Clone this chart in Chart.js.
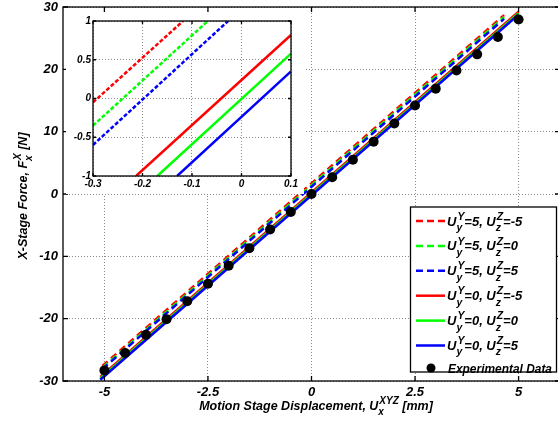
<!DOCTYPE html>
<html><head><meta charset="utf-8">
<script src="https://cdn.jsdelivr.net/npm/chart.js@4"></script>
<style>
html,body{margin:0;padding:0;background:#fff;overflow:hidden;width:558px;height:423px}
#main{position:absolute;left:0;top:0}
#inset{position:absolute;left:66px;top:12px}
</style></head><body>
<canvas id="main" width="565" height="423"></canvas>
<canvas id="inset" width="238" height="182"></canvas>
<script>
// ---------- data ----------
const seriesNames = ['U_y^Y=5, U_z^Z=-5','U_y^Y=5, U_z^Z=0','U_y^Y=5, U_z^Z=5',
                     'U_y^Y=0, U_z^Z=-5','U_y^Y=0, U_z^Z=0','U_y^Y=0, U_z^Z=5'];
const seriesColors = ['#ff0000','#00ff00','#0000ff','#ff0000','#00ff00','#0000ff'];
const seriesDashed = [true,true,true,false,false,false];
const expLabel = 'Experimental Data';

// main plot line endpoints (x in mm, F in N)
const dashX  = [-5.05, 4.65];
const solidX = [-5.1, 5.0];
const dashRedY   = [-27.6, 28.7];
const dashGreenY = [-27.9, 28.4];
const dashBlueY  = [-28.1, 28.1];
const solidRedY   = [-29.34, 29.24];
const solidGreenY = [-29.6, 29.0];
const solidBlueY  = [-29.8, 28.8];

// experimental data
const expX = [-5,-4.5,-4,-3.5,-3,-2.5,-2,-1.5,-1,-0.5,0,0.5,1,1.5,2,2.5,3,3.5,4,4.5,5];
const expY = [-28.3,-25.5,-22.6,-20.1,-17.2,-14.4,-11.5,-8.7,-5.7,-2.9,0.0,2.7,5.5,8.4,11.3,14.2,16.9,19.8,22.4,25.2,28.0];

// inset line endpoints
const inDashRedX = [-0.3, -0.118],  inDashRedY = [-0.05, 1];
const inDashGreenX = [-0.3, -0.068], inDashGreenY = [-0.35, 1];
const inDashBlueX = [-0.3, -0.027],  inDashBlueY = [-0.6, 1];
const inSolidRedX = [-0.213, 0.1],   inSolidRedY = [-1, 0.82];
const inSolidGreenX = [-0.17, 0.1],  inSolidGreenY = [-1, 0.58];
const inSolidBlueX = [-0.13, 0.1],   inSolidBlueY = [-1, 0.35];

// ticks
const xTickVals = [-5,-2.5,0,2.5,5];
const xTickLabels = ['-5','-2.5','0','2.5','5'];
const yTickVals = [-30,-20,-10,0,10,20,30];
const yTickLabels = ['-30','-20','-10','0','10','20','30'];
const inXTickVals = [-0.3,-0.2,-0.1,0,0.1];
const inXTickLabels = ['-0.3','-0.2','-0.1','0','0.1'];
const inYTickVals = [-1,-0.5,0,0.5,1];
const inYTickLabels = ['-1','-0.5','0','0.5','1'];

const xTitle = 'Motion Stage Displacement, U_x^XYZ [mm]';
const yTitle = 'X-Stage Force, F_x^X [N]';

// ---------- helpers ----------
const FF = "'Liberation Sans', Arial, Helvetica, sans-serif";
const pts = (xs, ys) => xs.map((x, i) => ({x, y: ys[i]}));

function parseRich(s){
  const parts=[]; const re=/_(\w+)\^(\w+)/g; let last=0,m;
  while((m=re.exec(s))){
    if(m.index>last) parts.push({t:s.slice(last,m.index)});
    parts.push({sub:m[1],sup:m[2]}); last=re.lastIndex;
  }
  if(last<s.length) parts.push({t:s.slice(last)});
  return parts;
}
function richWidth(ctx, parts, size){
  let w=0;
  for(const p of parts){
    if(p.t!==undefined){ ctx.font=`italic bold ${size}px ${FF}`; w+=ctx.measureText(p.t).width; }
    else { ctx.font=`italic bold ${size*0.8}px ${FF}`; w+=Math.max(ctx.measureText(p.sub).width, ctx.measureText(p.sup).width)+1; }
  }
  return w;
}
function drawRich(ctx, s, x, y, size, align){
  const parts=parseRich(s);
  let cx = x;
  if(align==='center') cx = x - richWidth(ctx, parts, size)/2;
  ctx.fillStyle='#000'; ctx.textBaseline='alphabetic'; ctx.textAlign='left';
  for(const p of parts){
    if(p.t!==undefined){ ctx.font=`italic bold ${size}px ${FF}`; ctx.fillText(p.t,cx,y); cx+=ctx.measureText(p.t).width; }
    else {
      ctx.font=`italic bold ${size*0.8}px ${FF}`;
      ctx.fillText(p.sup, cx+1, y-size*0.45);
      ctx.fillText(p.sub, cx, y+size*0.42);
      cx += Math.max(ctx.measureText(p.sub).width, ctx.measureText(p.sup).width)+1;
    }
  }
}

function boxAndTicks(chart, xv, yv, len){
  const {ctx, chartArea:a, scales:{x,y}} = chart;
  ctx.save();
  ctx.strokeStyle='#000'; ctx.lineWidth=1.3; ctx.setLineDash([]);
  ctx.strokeRect(a.left, a.top, a.right-a.left, a.bottom-a.top);
  ctx.beginPath();
  for(const v of xv){ const px=x.getPixelForValue(v);
    ctx.moveTo(px,a.bottom); ctx.lineTo(px,a.bottom-len);
    ctx.moveTo(px,a.top); ctx.lineTo(px,a.top+len); }
  for(const v of yv){ const py=y.getPixelForValue(v);
    ctx.moveTo(a.left,py); ctx.lineTo(a.left+len,py);
    ctx.moveTo(a.right,py); ctx.lineTo(a.right-len,py); }
  ctx.stroke();
  ctx.restore();
}

const mainDecor = {
  id:'mainDecor',
  beforeDraw(chart){ const c=chart.ctx; c.save(); c.fillStyle='#fff'; c.fillRect(0,0,chart.width,chart.height); c.restore(); },
  afterDraw(chart){
    const ctx=chart.ctx;
    boxAndTicks(chart, xTickVals, yTickVals, 5);
    ctx.save();
    // axis titles
    drawRich(ctx, xTitle, 316, 410, 12.5, 'center');
    ctx.translate(27, 196); ctx.rotate(-Math.PI/2);
    drawRich(ctx, yTitle, 0, 0, 12.5, 'center');
    ctx.restore();
    // legend
    ctx.save();
    const L=410.5, T=207, R=556.5, B=372;
    ctx.fillStyle='#fff'; ctx.fillRect(L,T,R-L,B-T);
    ctx.strokeStyle='#000'; ctx.lineWidth=1.3; ctx.strokeRect(L,T,R-L,B-T);
    for(let i=0;i<seriesNames.length;i++){
      const ly = 221 + i*24.9;
      ctx.strokeStyle=seriesColors[i]; ctx.lineWidth=2.5;
      ctx.setLineDash(seriesDashed[i]?[7,4]:[]);
      ctx.beginPath(); ctx.moveTo(416,ly); ctx.lineTo(445,ly); ctx.stroke();
      ctx.setLineDash([]);
      drawRich(ctx, seriesNames[i], 447, ly+4.5, 13, 'left');
    }
    ctx.fillStyle='#000'; ctx.beginPath(); ctx.arc(431,368,4.5,0,Math.PI*2); ctx.fill();
    ctx.font=`italic bold 13px ${FF}`; ctx.textBaseline='alphabetic'; ctx.textAlign='left';
    const w = ctx.measureText(expLabel).width;
    ctx.translate(448, 372.5); ctx.scale(Math.min(1, 104/w), 1);
    ctx.fillText(expLabel, 0, 0);
    ctx.restore();
  }
};

const insetDecor = {
  id:'insetDecor',
  beforeDraw(chart){ const c=chart.ctx; c.save(); c.fillStyle='#fff'; c.fillRect(0,0,chart.width,chart.height); c.restore(); },
  afterDraw(chart){ boxAndTicks(chart, inXTickVals, inYTickVals, 3); }
};

const gridOpts = {color:'#8a8a8a', lineWidth:1, drawTicks:false};
const borderOpts = {display:false, dash:[1,2]};

function lineDs(data, color, dashed, order, dash){
  return {data, showLine:true, borderColor:color, backgroundColor:color, borderWidth:2.5,
    borderDash: dashed?dash:[], pointRadius:0, pointHoverRadius:0, order, tension:0};
}

new Chart(document.getElementById('main'), {
  type:'scatter',
  data:{datasets:[
    {data:pts(expX,expY), pointRadius:5, pointBackgroundColor:'#000', pointBorderWidth:0, showLine:false, order:0},
    lineDs(pts(solidX,solidBlueY), seriesColors[5], false, 1),
    lineDs(pts(solidX,solidGreenY), seriesColors[4], false, 2),
    lineDs(pts(solidX,solidRedY), seriesColors[3], false, 3),
    lineDs(pts(dashX,dashBlueY), seriesColors[2], true, 4, [7,4.5]),
    lineDs(pts(dashX,dashGreenY), seriesColors[1], true, 5, [7,4.5]),
    lineDs(pts(dashX,dashRedY), seriesColors[0], true, 6, [7,4.5]),
  ]},
  options:{
    responsive:false, animation:false, devicePixelRatio:1,
    layout:{padding:{top:7, right:1, left:0, bottom:0}},
    plugins:{legend:{display:false}, tooltip:{enabled:false}},
    scales:{
      x:{type:'linear', min:-6, max:6,
        afterBuildTicks:s=>{s.ticks=xTickVals.map(v=>({value:v}));},
        afterFit:s=>{s.height=42; s.paddingLeft=0; s.paddingRight=0;},
        ticks:{callback:(v,i)=>xTickLabels[i], color:'#000', padding:4, maxRotation:0, autoSkip:false,
          font:{family:FF, size:13, weight:'bold', style:'italic'}},
        grid:gridOpts, border:borderOpts},
      y:{type:'linear', min:-30, max:30,
        afterBuildTicks:s=>{s.ticks=yTickVals.map(v=>({value:v}));},
        afterFit:s=>{s.width=63; s.paddingTop=0; s.paddingBottom=0;},
        ticks:{callback:(v,i)=>yTickLabels[i], color:'#000', padding:5, autoSkip:false,
          font:{family:FF, size:13, weight:'bold', style:'italic'}},
        grid:gridOpts, border:borderOpts}
    }
  },
  plugins:[mainDecor]
});

new Chart(document.getElementById('inset'), {
  type:'scatter',
  data:{datasets:[
    lineDs(pts(inSolidBlueX,inSolidBlueY), seriesColors[5], false, 1),
    lineDs(pts(inSolidGreenX,inSolidGreenY), seriesColors[4], false, 2),
    lineDs(pts(inSolidRedX,inSolidRedY), seriesColors[3], false, 3),
    lineDs(pts(inDashBlueX,inDashBlueY), seriesColors[2], true, 4, [4,2]),
    lineDs(pts(inDashGreenX,inDashGreenY), seriesColors[1], true, 5, [4,2]),
    lineDs(pts(inDashRedX,inDashRedY), seriesColors[0], true, 6, [4,2]),
  ]},
  options:{
    responsive:false, animation:false, devicePixelRatio:1,
    layout:{padding:{top:9, right:13, left:0, bottom:0}},
    plugins:{legend:{display:false}, tooltip:{enabled:false}},
    scales:{
      x:{type:'linear', min:-0.3, max:0.1,
        afterBuildTicks:s=>{s.ticks=inXTickVals.map(v=>({value:v}));},
        afterFit:s=>{s.height=18; s.paddingLeft=0; s.paddingRight=0;},
        ticks:{callback:(v,i)=>inXTickLabels[i], color:'#000', padding:2, maxRotation:0, autoSkip:false,
          font:{family:FF, size:10, weight:'bold', style:'italic'}},
        grid:gridOpts, border:borderOpts},
      y:{type:'linear', min:-1, max:1,
        afterBuildTicks:s=>{s.ticks=inYTickVals.map(v=>({value:v}));},
        afterFit:s=>{s.width=27; s.paddingTop=0; s.paddingBottom=0;},
        ticks:{callback:(v,i)=>inYTickLabels[i], color:'#000', padding:2, autoSkip:false,
          font:{family:FF, size:10, weight:'bold', style:'italic'}},
        grid:gridOpts, border:borderOpts}
    }
  },
  plugins:[insetDecor]
});
</script></body></html>
